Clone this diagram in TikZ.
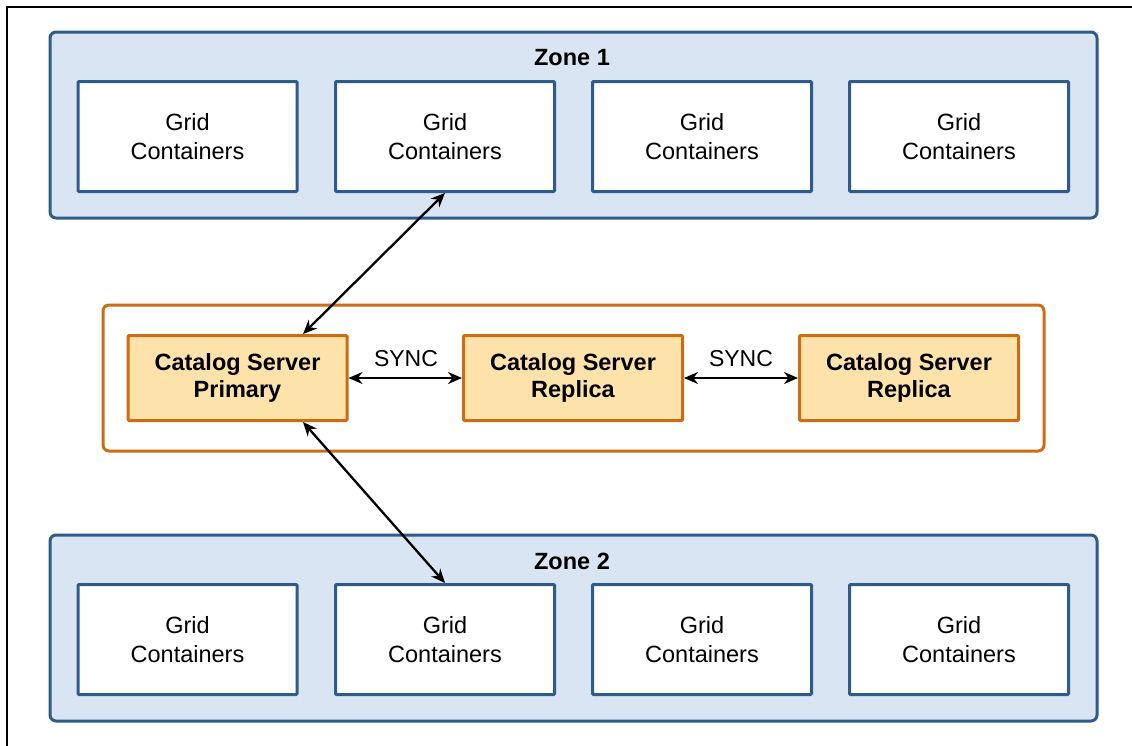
\documentclass[tikz,border=0pt]{standalone}
\usepackage{fontspec}
\setmainfont{Liberation Sans}
\usetikzlibrary{arrows.meta}
\definecolor{zonefill}{HTML}{D9E5F2}
\definecolor{zoneline}{HTML}{2F5B8C}
\definecolor{orline}{HTML}{CC6D14}
\definecolor{catfill}{HTML}{FDE3AA}
\tikzset{
  zonebox/.style={draw=zoneline, fill=zonefill, line width=3pt, rounded corners=6pt, minimum width=1047pt, minimum height=186pt, inner sep=0pt},
  gridbox/.style={draw=zoneline, fill=white, line width=3pt, rounded corners=1pt, minimum width=219pt, minimum height=110pt, align=center, font=\fontsize{23.5pt}{29pt}\selectfont, inner sep=0pt},
  orbox/.style={draw=orline, fill=white, line width=3pt, rounded corners=6pt, minimum width=941pt, minimum height=146pt, inner sep=0pt},
  catbox/.style={draw=orline, fill=catfill, line width=3pt, rounded corners=1pt, minimum width=219pt, minimum height=85pt, align=center, font=\fontsize{23.5pt}{27pt}\selectfont\bfseries, inner sep=0pt},
  zonelabel/.style={font=\fontsize{23.5pt}{27pt}\selectfont\bfseries},
  synclabel/.style={font=\fontsize{23pt}{27pt}\selectfont},
  link/.style={line width=2.3pt, {Stealth[length=14pt,width=12pt]}-{Stealth[length=14pt,width=12pt]}}
}
\begin{document}
\begin{tikzpicture}[x=1pt,y=-1pt]
\useasboundingbox (0,0) rectangle (1132,745);
\coordinate (fa) at (1140,7);
\coordinate (fb) at (7,7);
\coordinate (fc) at (7,750);
\draw[line width=1.5pt] (fa) -- (fb) -- (fc);
% zones
\node[zonebox] (z1) at (573.5,125) {};
\node[zonebox] (z2) at (573.5,628) {};
\node[zonelabel] (z1l) at (572,58) {Zone 1};
\node[zonelabel] (z2l) at (572,561) {Zone 2};
\foreach \i/\x in {1/187.5,2/445,3/702,4/959}{
  \node[gridbox] (ga\i) at (\x,136.5) {Grid\\Containers};
  \node[gridbox] (gb\i) at (\x,639.5) {Grid\\Containers};
}
% catalog group
\node[orbox] (grp) at (573.5,378) {};
\node[catbox] (cp) at (237.5,378) {Catalog Server\\Primary};
\node[catbox] (cr1) at (573,378) {Catalog Server\\Replica};
\node[catbox] (cr2) at (909,378) {Catalog Server\\Replica};
\node[synclabel] (s1) at (406,359) {SYNC};
\node[synclabel] (s2) at (741,359) {SYNC};
\draw[link] (cp.east) -- (cr1.west);
\draw[link] (cr1.east) -- (cr2.west);
\draw[link] (ga2.south) -- ([xshift=65.5pt]cp.north);
\draw[link] ([xshift=65.5pt]cp.south) -- (gb2.north);
\end{tikzpicture}
\end{document}
